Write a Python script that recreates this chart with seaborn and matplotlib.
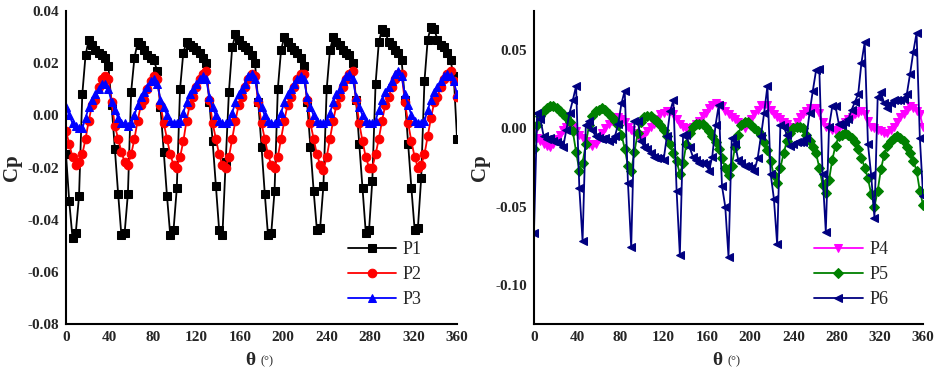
import matplotlib
matplotlib.use('Agg')
import matplotlib.pyplot as plt
from matplotlib.ticker import MultipleLocator, FormatStrFormatter
import seaborn as sns
import numpy as np

# 3도 간격 회전각
theta = np.arange(0, 361, 3)

p1 = [-0.015, -0.033, -0.047, -0.045, -0.031, 0.008, 0.023, 0.029, 0.027, 0.025, 0.024, 0.023, 0.022, 0.019, 0.004,
      -0.013, -0.030, -0.046, -0.045, -0.030, 0.009, 0.022, 0.028, 0.027, 0.025, 0.023, 0.022, 0.021, 0.017, 0.003,
      -0.014, -0.031, -0.046, -0.044, -0.028, 0.010, 0.024, 0.028, 0.027, 0.026, 0.025, 0.024, 0.022, 0.020, 0.005,
      -0.010, -0.027, -0.044, -0.046, -0.018, 0.009, 0.026, 0.031, 0.029, 0.027, 0.026, 0.025, 0.023, 0.020, 0.005,
      -0.012, -0.030, -0.046, -0.045, -0.029, 0.010, 0.025, 0.030, 0.028, 0.026, 0.025, 0.024, 0.022, 0.019, 0.005,
      -0.012, -0.029, -0.044, -0.043, -0.027, 0.010, 0.025, 0.030, 0.028, 0.027, 0.025, 0.024, 0.023, 0.020, 0.006,
      -0.011, -0.028, -0.045, -0.044, -0.025, 0.012, 0.028, 0.033, 0.032, 0.028, 0.027, 0.025, 0.024, 0.021, 0.006,
      -0.011, -0.028, -0.044, -0.043, -0.024, 0.013, 0.029, 0.034, 0.033, 0.029, 0.027, 0.026, 0.024, 0.021, 0.015,
      -0.009]

p2 = [-0.006, -0.011, -0.016, -0.019, -0.018, -0.015, -0.009, -0.002, 0.004, 0.006, 0.011, 0.014, 0.015, 0.014, 0.005,
      -0.004, -0.009, -0.014, -0.018, -0.019, -0.015, -0.009, -0.002, 0.004, 0.006, 0.010, 0.013, 0.015, 0.014, 0.004,
      -0.003, -0.009, -0.015, -0.019, -0.020, -0.016, -0.010, -0.002, 0.004, 0.007, 0.011, 0.014, 0.016, 0.017, 0.006,
      -0.003, -0.009, -0.015, -0.019, -0.020, -0.016, -0.009, -0.002, 0.004, 0.007, 0.011, 0.014, 0.016, 0.015, 0.005,
      -0.003, -0.009, -0.015, -0.019, -0.020, -0.016, -0.009, -0.002, 0.004, 0.007, 0.011, 0.014, 0.016, 0.016, 0.006,
      -0.003, -0.009, -0.015, -0.019, -0.021, -0.016, -0.009, -0.002, 0.004, 0.007, 0.011, 0.014, 0.016, 0.017, 0.006,
      -0.003, -0.010, -0.016, -0.020, -0.020, -0.015, -0.009, -0.002, 0.004, 0.007, 0.011, 0.014, 0.016, 0.016, 0.005,
      -0.003, -0.010, -0.016, -0.020, -0.019, -0.015, -0.008, -0.001, 0.005, 0.007, 0.011, 0.014, 0.016, 0.017, 0.013,
      0.007]

p3 = [0.003, 0.000, -0.003, -0.004, -0.005, -0.005, -0.001, 0.003, 0.006, 0.008, 0.010, 0.012, 0.012, 0.010, 0.005,
      0.002, -0.001, -0.003, -0.003, -0.004, -0.003, 0.000, 0.004, 0.007, 0.009, 0.011, 0.013, 0.014, 0.012, 0.006,
      0.003, 0.000, -0.002, -0.003, -0.003, -0.002, 0.001, 0.005, 0.008, 0.010, 0.012, 0.014, 0.015, 0.014, 0.007,
      0.003, 0.000, -0.002, -0.003, -0.003, -0.002, 0.001, 0.005, 0.008, 0.010, 0.012, 0.015, 0.016, 0.014, 0.007,
      0.003, 0.000, -0.002, -0.003, -0.003, -0.002, 0.001, 0.005, 0.008, 0.010, 0.012, 0.014, 0.015, 0.014, 0.007,
      0.003, 0.000, -0.002, -0.003, -0.003, -0.002, 0.001, 0.005, 0.008, 0.010, 0.013, 0.015, 0.016, 0.014, 0.007,
      0.003, 0.000, -0.002, -0.003, -0.003, -0.002, 0.002, 0.006, 0.009, 0.011, 0.013, 0.016, 0.017, 0.015, 0.008,
      0.004, 0.000, -0.002, -0.003, -0.003, -0.002, 0.002, 0.006, 0.009, 0.011, 0.013, 0.015, 0.016, 0.015, 0.013,
      0.008]

p4 = [-0.003, -0.006, -0.008, -0.010, -0.011, -0.012, -0.010, -0.007, -0.004, -0.001, 0.001, 0.002, 0.001, -0.002, -0.004,
      -0.006, -0.008, -0.010, -0.011, -0.010, -0.007, -0.003, 0.000, 0.003, 0.005, 0.006, 0.007, 0.006, 0.004, 0.001,
      -0.001, -0.003, -0.005, -0.006, -0.004, -0.002, 0.001, 0.003, 0.006, 0.009, 0.010, 0.011, 0.011, 0.009, 0.006,
      0.003, 0.001, 0.000, 0.000, 0.001, 0.003, 0.005, 0.008, 0.010, 0.013, 0.015, 0.016, 0.015, 0.014, 0.011,
      0.009, 0.007, 0.006, 0.004, 0.002, 0.000, 0.003, 0.006, 0.009, 0.012, 0.015, 0.015, 0.015, 0.012, 0.009,
      0.007, 0.006, 0.004, 0.003, 0.001, 0.001, 0.004, 0.007, 0.009, 0.011, 0.013, 0.013, 0.013, 0.010, 0.004,
      0.001, 0.000, -0.001, -0.002, 0.000, 0.002, 0.004, 0.006, 0.007, 0.009, 0.010, 0.011, 0.009, 0.005, 0.001,
      0.000, -0.001, -0.002, -0.003, -0.003, -0.001, 0.001, 0.004, 0.007, 0.009, 0.012, 0.014, 0.013, 0.011, 0.009,
      0.001]

p5 = [-0.013, 0.002, 0.008, 0.011, 0.013, 0.014, 0.014, 0.013, 0.011, 0.009, 0.007, 0.004, -0.002, -0.015, -0.027,
      -0.022, -0.010, 0.002, 0.008, 0.011, 0.012, 0.013, 0.012, 0.009, 0.007, 0.005, 0.002, -0.004, -0.013, -0.024,
      -0.027, -0.015, -0.003, 0.004, 0.007, 0.008, 0.008, 0.006, 0.005, 0.002, -0.001, -0.005, -0.010, -0.016, -0.021,
      -0.029, -0.022, -0.010, -0.003, 0.001, 0.003, 0.003, 0.003, 0.001, -0.002, -0.005, -0.009, -0.013, -0.019, -0.025,
      -0.030, -0.024, -0.012, -0.004, 0.002, 0.004, 0.004, 0.002, 0.000, -0.002, -0.004, -0.009, -0.014, -0.021, -0.030,
      -0.035, -0.025, -0.016, -0.008, -0.003, 0.000, 0.001, 0.001, 0.000, -0.004, -0.008, -0.012, -0.016, -0.025, -0.036,
      -0.041, -0.033, -0.020, -0.011, -0.005, -0.004, -0.003, -0.004, -0.006, -0.009, -0.013, -0.019, -0.025, -0.032, -0.042,
      -0.050, -0.040, -0.026, -0.017, -0.011, -0.008, -0.006, -0.005, -0.006, -0.008, -0.012, -0.016, -0.021, -0.027, -0.040,
      -0.049]

p6 = [-0.067, 0.010, 0.006, -0.005, -0.007, -0.006, -0.008, -0.009, -0.010, -0.012, -0.001, 0.010, 0.018, 0.027, -0.038,
      -0.072, 0.002, 0.005, -0.001, -0.005, -0.006, -0.007, -0.006, -0.008, -0.007, -0.005, 0.003, 0.016, 0.024, -0.035,
      -0.076, 0.005, 0.005, -0.008, -0.012, -0.013, -0.016, -0.018, -0.019, -0.019, -0.020, -0.005, 0.011, 0.018, -0.040,
      -0.081, -0.004, -0.004, -0.012, -0.018, -0.020, -0.022, -0.022, -0.023, -0.027, -0.018, 0.002, 0.015, -0.037, -0.050,
      -0.082, -0.006, -0.010, -0.020, -0.022, -0.024, -0.024, -0.025, -0.027, -0.019, -0.005, 0.010, 0.027, -0.029, -0.045,
      -0.074, 0.002, 0.001, -0.004, -0.011, -0.010, -0.009, -0.009, -0.009, -0.006, 0.010, 0.024, 0.037, 0.038, -0.029,
      -0.066, 0.001, 0.014, 0.014, 0.003, 0.002, 0.004, 0.006, 0.012, 0.017, 0.022, 0.042, 0.055, -0.010, -0.030,
      -0.057, 0.020, 0.023, 0.016, 0.013, 0.016, 0.018, 0.018, 0.018, 0.019, 0.022, 0.035, 0.049, 0.061, -0.006,
      -0.043]

sns.set_style('white')
plt.rcParams['font.family'] = ['Liberation Serif', 'DejaVu Serif']
plt.rcParams['axes.unicode_minus'] = False

fig = plt.figure(figsize=(9.4, 3.76), dpi=100)
ax1 = fig.add_axes([0.0702, 0.138, 0.416, 0.833])
ax2 = fig.add_axes([0.568, 0.138, 0.414, 0.833])

left_series = [(p1, 'P1', 'black', 's'), (p2, 'P2', '#ff0000', 'o'), (p3, 'P3', '#0000ff', '^')]
right_series = [(p4, 'P4', '#ff00ff', 'v'), (p5, 'P5', '#008000', 'D'), (p6, 'P6', '#000080', '<')]

for ax, series in [(ax1, left_series), (ax2, right_series)]:
    for vals, name, col, mk in series:
        ms = 5.2 if mk == 'D' else 6.2
        sns.lineplot(x=theta, y=vals, ax=ax, color=col, marker=mk, markersize=ms,
                     markeredgecolor=col, linewidth=1.3, label=name, estimator=None)

# 축 설정
ax1.set_ylim(-0.08, 0.04)
ax1.yaxis.set_major_locator(MultipleLocator(0.02))
ax1.yaxis.set_minor_locator(MultipleLocator(0.01))
ax2.set_ylim(-0.125, 0.075)
ax2.yaxis.set_major_locator(MultipleLocator(0.05))
ax2.yaxis.set_minor_locator(MultipleLocator(0.025))

for ax in (ax1, ax2):
    ax.set_xlim(0, 360)
    ax.xaxis.set_major_locator(MultipleLocator(40))
    ax.xaxis.set_minor_locator(MultipleLocator(20))
    ax.yaxis.set_major_formatter(FormatStrFormatter('%.2f'))
    for side in ['top', 'right']:
        ax.spines[side].set_visible(False)
    for side in ['left', 'bottom']:
        ax.spines[side].set_linewidth(1.5)
        ax.spines[side].set_color('black')
    ax.tick_params(which='major', direction='in', length=5, width=1.3, labelsize=11, pad=5)
    ax.tick_params(which='minor', direction='in', length=3, width=1.1)
    for lab in ax.get_xticklabels() + ax.get_yticklabels():
        lab.set_fontweight('bold')
    ax.set_xlabel('')
    ax.set_ylabel('Cp', fontsize=15, fontweight='bold', labelpad=4)
    ax.text(0.458, -0.115, 'θ', transform=ax.transAxes, fontsize=14, fontweight='bold',
            ha='left', va='center')
    ax.text(0.498, -0.118, '(°)', transform=ax.transAxes, fontsize=9, ha='left', va='center')
    ax.legend(loc='lower left', bbox_to_anchor=(0.72, 0.05), frameon=False, fontsize=13,
              handlelength=2.7, handletextpad=0.35, labelspacing=0.45, borderpad=0, borderaxespad=0)

plt.savefig('out.png', dpi=100)
